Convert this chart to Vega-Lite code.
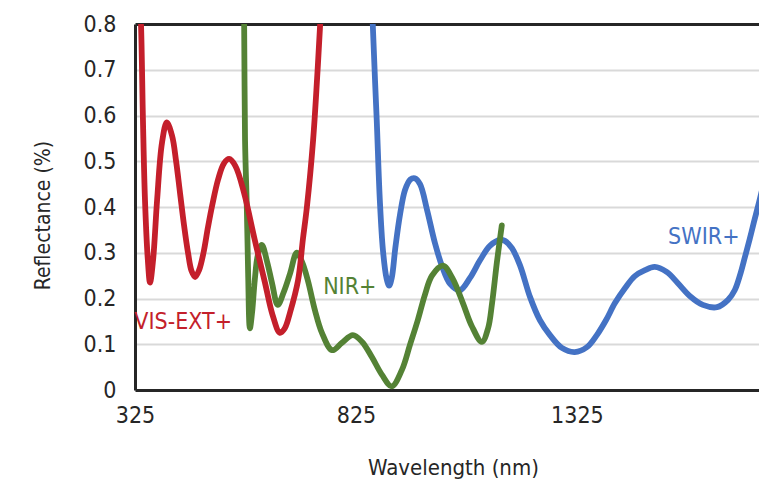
{
  "$schema": "https://vega.github.io/schema/vega-lite/v6.json",
  "autosize": "none",
  "width": 624,
  "height": 366,
  "padding": {"left": 135, "top": 24, "right": 0, "bottom": 95},
  "background": "white",
  "config": {
    "view": {"stroke": null},
    "font": "DejaVu Sans Condensed"
  },
  "datasets": {
    "curves": [
      {"series": "SWIR+", "wl": 861, "r": 0.9},
      {"series": "SWIR+", "wl": 863, "r": 0.8},
      {"series": "SWIR+", "wl": 872, "r": 0.59},
      {"series": "SWIR+", "wl": 879, "r": 0.415},
      {"series": "SWIR+", "wl": 886, "r": 0.306},
      {"series": "SWIR+", "wl": 894, "r": 0.245},
      {"series": "SWIR+", "wl": 900, "r": 0.228},
      {"series": "SWIR+", "wl": 906, "r": 0.245},
      {"series": "SWIR+", "wl": 914, "r": 0.31},
      {"series": "SWIR+", "wl": 925, "r": 0.385},
      {"series": "SWIR+", "wl": 936, "r": 0.437},
      {"series": "SWIR+", "wl": 948, "r": 0.46},
      {"series": "SWIR+", "wl": 958, "r": 0.463},
      {"series": "SWIR+", "wl": 970, "r": 0.45},
      {"series": "SWIR+", "wl": 986, "r": 0.393},
      {"series": "SWIR+", "wl": 1004, "r": 0.32},
      {"series": "SWIR+", "wl": 1020, "r": 0.27},
      {"series": "SWIR+", "wl": 1038, "r": 0.232},
      {"series": "SWIR+", "wl": 1060, "r": 0.218},
      {"series": "SWIR+", "wl": 1083, "r": 0.245},
      {"series": "SWIR+", "wl": 1106, "r": 0.284},
      {"series": "SWIR+", "wl": 1128, "r": 0.315},
      {"series": "SWIR+", "wl": 1151, "r": 0.328},
      {"series": "SWIR+", "wl": 1162, "r": 0.326},
      {"series": "SWIR+", "wl": 1178, "r": 0.31},
      {"series": "SWIR+", "wl": 1196, "r": 0.273},
      {"series": "SWIR+", "wl": 1219, "r": 0.203},
      {"series": "SWIR+", "wl": 1241, "r": 0.153},
      {"series": "SWIR+", "wl": 1264, "r": 0.12},
      {"series": "SWIR+", "wl": 1291, "r": 0.092},
      {"series": "SWIR+", "wl": 1320, "r": 0.083},
      {"series": "SWIR+", "wl": 1348, "r": 0.094},
      {"series": "SWIR+", "wl": 1370, "r": 0.12},
      {"series": "SWIR+", "wl": 1391, "r": 0.153},
      {"series": "SWIR+", "wl": 1411, "r": 0.19},
      {"series": "SWIR+", "wl": 1434, "r": 0.223},
      {"series": "SWIR+", "wl": 1456, "r": 0.249},
      {"series": "SWIR+", "wl": 1479, "r": 0.262},
      {"series": "SWIR+", "wl": 1501, "r": 0.269},
      {"series": "SWIR+", "wl": 1528, "r": 0.258},
      {"series": "SWIR+", "wl": 1553, "r": 0.234},
      {"series": "SWIR+", "wl": 1581, "r": 0.205},
      {"series": "SWIR+", "wl": 1610, "r": 0.186},
      {"series": "SWIR+", "wl": 1642, "r": 0.181},
      {"series": "SWIR+", "wl": 1667, "r": 0.197},
      {"series": "SWIR+", "wl": 1682, "r": 0.218},
      {"series": "SWIR+", "wl": 1694, "r": 0.251},
      {"series": "SWIR+", "wl": 1705, "r": 0.29},
      {"series": "SWIR+", "wl": 1716, "r": 0.33},
      {"series": "SWIR+", "wl": 1725, "r": 0.365},
      {"series": "SWIR+", "wl": 1737, "r": 0.41},
      {"series": "SWIR+", "wl": 1747, "r": 0.45},
      {"series": "NIR+", "wl": 570, "r": 0.9},
      {"series": "NIR+", "wl": 572, "r": 0.8},
      {"series": "NIR+", "wl": 574, "r": 0.546},
      {"series": "NIR+", "wl": 578, "r": 0.4},
      {"series": "NIR+", "wl": 581, "r": 0.255},
      {"series": "NIR+", "wl": 585, "r": 0.135},
      {"series": "NIR+", "wl": 590, "r": 0.17},
      {"series": "NIR+", "wl": 596, "r": 0.24},
      {"series": "NIR+", "wl": 603, "r": 0.295},
      {"series": "NIR+", "wl": 612, "r": 0.317},
      {"series": "NIR+", "wl": 624, "r": 0.28},
      {"series": "NIR+", "wl": 635, "r": 0.234},
      {"series": "NIR+", "wl": 648, "r": 0.186},
      {"series": "NIR+", "wl": 662, "r": 0.215},
      {"series": "NIR+", "wl": 676, "r": 0.255},
      {"series": "NIR+", "wl": 691, "r": 0.3},
      {"series": "NIR+", "wl": 703, "r": 0.28},
      {"series": "NIR+", "wl": 716, "r": 0.24},
      {"series": "NIR+", "wl": 732, "r": 0.175},
      {"series": "NIR+", "wl": 748, "r": 0.125},
      {"series": "NIR+", "wl": 771, "r": 0.087},
      {"series": "NIR+", "wl": 793, "r": 0.103},
      {"series": "NIR+", "wl": 818, "r": 0.12},
      {"series": "NIR+", "wl": 839, "r": 0.105},
      {"series": "NIR+", "wl": 861, "r": 0.072},
      {"series": "NIR+", "wl": 884, "r": 0.033},
      {"series": "NIR+", "wl": 906, "r": 0.008},
      {"series": "NIR+", "wl": 929, "r": 0.044},
      {"series": "NIR+", "wl": 947, "r": 0.098},
      {"series": "NIR+", "wl": 965, "r": 0.153},
      {"series": "NIR+", "wl": 981, "r": 0.208},
      {"series": "NIR+", "wl": 997, "r": 0.25},
      {"series": "NIR+", "wl": 1022, "r": 0.272},
      {"series": "NIR+", "wl": 1043, "r": 0.245},
      {"series": "NIR+", "wl": 1067, "r": 0.19},
      {"series": "NIR+", "wl": 1087, "r": 0.14},
      {"series": "NIR+", "wl": 1110, "r": 0.105},
      {"series": "NIR+", "wl": 1124, "r": 0.135},
      {"series": "NIR+", "wl": 1133, "r": 0.19},
      {"series": "NIR+", "wl": 1144, "r": 0.28},
      {"series": "NIR+", "wl": 1155, "r": 0.36},
      {"series": "VIS-EXT+", "wl": 334, "r": 0.9},
      {"series": "VIS-EXT+", "wl": 338.6, "r": 0.8},
      {"series": "VIS-EXT+", "wl": 343, "r": 0.59},
      {"series": "VIS-EXT+", "wl": 347.6, "r": 0.415},
      {"series": "VIS-EXT+", "wl": 354, "r": 0.285},
      {"series": "VIS-EXT+", "wl": 359, "r": 0.235},
      {"series": "VIS-EXT+", "wl": 366, "r": 0.285},
      {"series": "VIS-EXT+", "wl": 375, "r": 0.415},
      {"series": "VIS-EXT+", "wl": 386, "r": 0.54},
      {"series": "VIS-EXT+", "wl": 397, "r": 0.585},
      {"series": "VIS-EXT+", "wl": 409, "r": 0.555},
      {"series": "VIS-EXT+", "wl": 418, "r": 0.5},
      {"series": "VIS-EXT+", "wl": 427, "r": 0.43},
      {"series": "VIS-EXT+", "wl": 436, "r": 0.36},
      {"series": "VIS-EXT+", "wl": 445, "r": 0.3},
      {"series": "VIS-EXT+", "wl": 453, "r": 0.26},
      {"series": "VIS-EXT+", "wl": 461, "r": 0.247},
      {"series": "VIS-EXT+", "wl": 470, "r": 0.262},
      {"series": "VIS-EXT+", "wl": 480, "r": 0.3},
      {"series": "VIS-EXT+", "wl": 490, "r": 0.355},
      {"series": "VIS-EXT+", "wl": 500, "r": 0.405},
      {"series": "VIS-EXT+", "wl": 513, "r": 0.46},
      {"series": "VIS-EXT+", "wl": 526, "r": 0.495},
      {"series": "VIS-EXT+", "wl": 538, "r": 0.505},
      {"series": "VIS-EXT+", "wl": 552, "r": 0.49},
      {"series": "VIS-EXT+", "wl": 572, "r": 0.43},
      {"series": "VIS-EXT+", "wl": 596, "r": 0.328},
      {"series": "VIS-EXT+", "wl": 619, "r": 0.235},
      {"series": "VIS-EXT+", "wl": 636, "r": 0.165},
      {"series": "VIS-EXT+", "wl": 653, "r": 0.125},
      {"series": "VIS-EXT+", "wl": 664, "r": 0.135},
      {"series": "VIS-EXT+", "wl": 676, "r": 0.17},
      {"series": "VIS-EXT+", "wl": 694, "r": 0.24},
      {"series": "VIS-EXT+", "wl": 705, "r": 0.33},
      {"series": "VIS-EXT+", "wl": 714, "r": 0.4},
      {"series": "VIS-EXT+", "wl": 728, "r": 0.546},
      {"series": "VIS-EXT+", "wl": 737, "r": 0.68},
      {"series": "VIS-EXT+", "wl": 744, "r": 0.8},
      {"series": "VIS-EXT+", "wl": 748, "r": 0.87}
    ],
    "labels": [
      {"series": "VIS-EXT+", "wl": 434, "r": 0.149, "label": "VIS-EXT+"},
      {"series": "NIR+", "wl": 811, "r": 0.225, "label": "NIR+"},
      {"series": "SWIR+", "wl": 1612, "r": 0.334, "label": "SWIR+"}
    ]
  },
  "layer": [
    {
      "data": {"name": "curves"},
      "mark": {"type": "line", "interpolate": "catmull-rom", "strokeWidth": 5.8, "strokeCap": "round", "strokeJoin": "round", "clip": true},
      "encoding": {
        "x": {
          "field": "wl", "type": "quantitative",
          "scale": {"domain": [325, 1737], "nice": false, "zero": false},
          "axis": {
            "values": [325, 825, 1325],
            "format": "d",
            "grid": false,
            "ticks": false,
            "domainColor": "#262626",
            "domainWidth": 3,
            "labelFontSize": 23,
            "labelColor": "#262626",
            "labelPadding": 14,
            "labelFlush": false,
            "title": "Wavelength (nm)",
            "titleFontSize": 22,
            "titleFontWeight": "normal",
            "titleColor": "#262626",
            "titleX": 318,
            "titleY": 84,
            "titleBaseline": "alphabetic",
            "titleAlign": "center"
          }
        },
        "y": {
          "field": "r", "type": "quantitative",
          "scale": {"domain": [0, 0.8], "nice": false},
          "axis": {
            "values": [0, 0.1, 0.2, 0.3, 0.4, 0.5, 0.6, 0.7, 0.8],
            "format": "~g",
            "grid": true,
            "gridColor": {"condition": {"test": "datum.value >= 0.79", "value": "#262626"}, "value": "#D9D9D9"},
            "gridWidth": {"condition": {"test": "datum.value >= 0.79", "value": 3}, "value": 2},
            "gridOpacity": 1,
            "ticks": false,
            "domainColor": "#262626",
            "domainWidth": 3,
            "labelFontSize": 23,
            "labelColor": "#262626",
            "labelPadding": 19,
            "labelBaseline": "middle",
            "title": "Reflectance (%)",
            "titleFontSize": 21,
            "titleFontWeight": "normal",
            "titleColor": "#262626",
            "titleAngle": -90,
            "titleX": -92,
            "titleY": 191,
            "titleBaseline": "middle",
            "titleAlign": "center"
          }
        },
        "color": {
          "field": "series", "type": "nominal",
          "scale": {"domain": ["SWIR+", "NIR+", "VIS-EXT+"], "range": ["#4472C4", "#548235", "#C41F2B"]},
          "legend": null
        }
      }
    },
    {
      "data": {"name": "labels"},
      "mark": {"type": "text", "fontSize": 23, "align": "center", "baseline": "middle"},
      "encoding": {
        "x": {"field": "wl", "type": "quantitative"},
        "y": {"field": "r", "type": "quantitative"},
        "text": {"field": "label"},
        "color": {"field": "series", "type": "nominal", "legend": null}
      }
    }
  ]
}
